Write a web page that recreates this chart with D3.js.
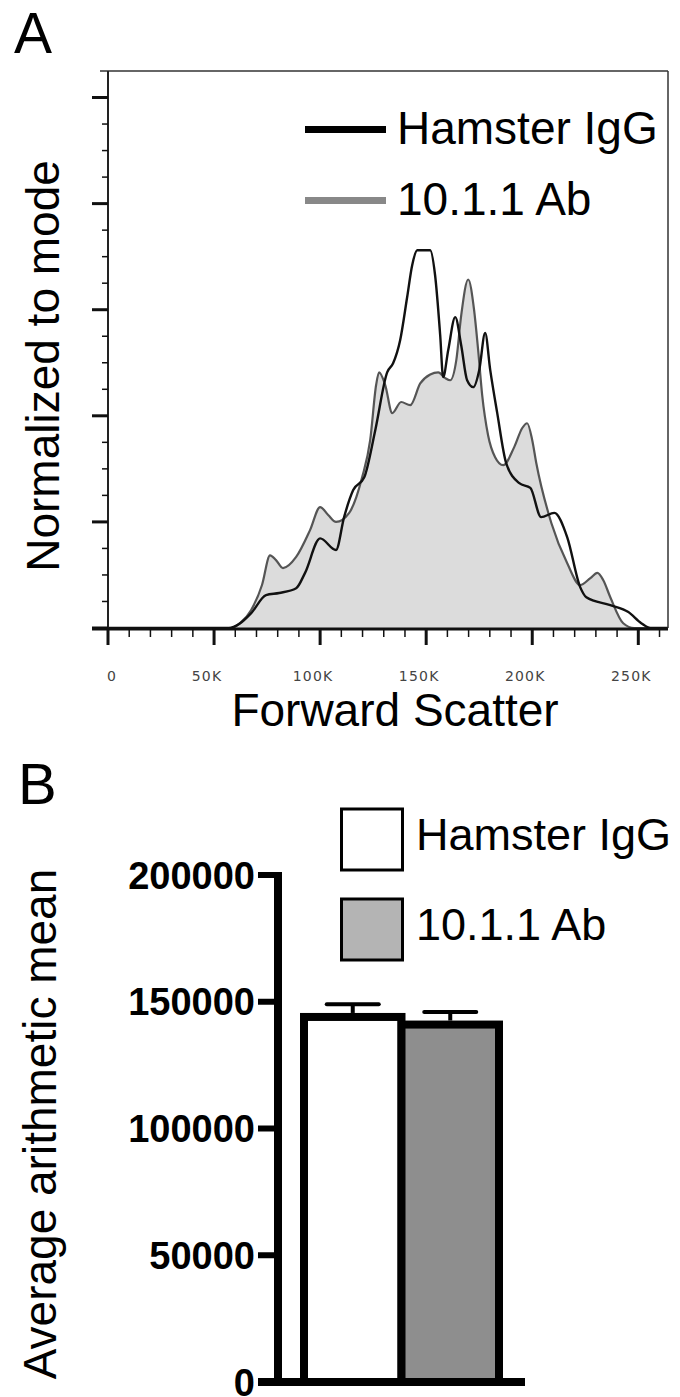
<!DOCTYPE html>
<html>
<head>
<meta charset="utf-8">
<script src="https://cdn.jsdelivr.net/npm/d3@7"></script>
<style>
  body { margin: 0; background: #fff; }
  text { font-family: "Liberation Sans", Arial, Helvetica, sans-serif; }
</style>
</head>
<body>
<script>
var width = 680;
var height = 1397;

// panel A: histogram, x in thousands (K), y in % of mode
var hamsterIgG = [[0,0],[57,0],[62,0.8],[67.5,2.8],[74.5,6.2],[80.7,6.6],[88.7,7.5],[92.9,10.4],[100,16.9],
  [107.5,14.7],[111.3,20.9],[115.6,26],[120.8,28.4],[126,37.3],[131.6,48.2],[134.4,49.9],[137.7,54.2],
  [141,62.3],[143.4,68.4],[145.8,71.2],[151.9,71.2],[154.2,66.5],[156.6,55.2],[158,47.3],[160.4,52.4],
  [163.7,58.6],[166.5,53.3],[169.3,46.7],[172.2,45.4],[175,48.6],[177.8,55.6],[180.2,48.6],[183.5,40.5],
  [187.7,31.1],[193.9,27.3],[199.1,26.4],[204.2,20.9],[210.4,21.7],[216.5,17.1],[222.6,7.7],[225.5,5.8],
  [236.8,4.3],[245.3,3.0],[251.4,0.9],[255.7,0],[264,0]];

var ab1011 = [[0,0],[58,0],[62.5,1],[67.5,3.4],[72.6,8.1],[76.4,13.7],[79.2,12.8],[82.5,11.3],[88.7,13.4],
  [95.3,18.5],[100,22.8],[103.8,21.3],[107.5,20],[113.7,21.7],[119.8,28.4],[123.6,35.4],[126.4,45.8],
  [127.8,48.2],[130.7,45.8],[134,40.5],[138.2,42.6],[142.5,42],[147.2,46.1],[151.9,47.8],[155.7,48.2],
  [159,47.1],[161.3,46.7],[164.2,50.5],[166.5,58.9],[169.8,65.7],[172.6,59.9],[174.5,52.4],[176.4,43.9],
  [179.2,36.3],[182.5,32.2],[186.3,30.7],[191.5,34.1],[195.3,37.7],[197.6,38.6],[200,35.4],[201.9,31.1],
  [209,19.8],[216.5,12.2],[222.6,8.1],[227.4,9.4],[230.7,10.4],[233.5,9.0],[236.8,5.8],[242.9,0.9],
  [248.1,0],[264,0]];

var xTicksA = [0, 50, 100, 150, 200, 250];
var xTickLabelsA = ["0", "50K", "100K", "150K", "200K", "250K"];
var seriesA = ["Hamster IgG", "10.1.1 Ab"];

// panel B: bar chart
var groupsB = ["Hamster IgG", "10.1.1 Ab"];
var meansB = [144000, 141000];
var errorsB = [5000, 5000];
var yTicksB = [0, 50000, 100000, 150000, 200000];

var svg = d3.select("body").append("svg")
  .attr("width", width)
  .attr("height", height);

// ---------- panel A ----------
var a = { left: 108, right: 668, top: 71, bottom: 628 };

var xA = d3.scaleLinear().domain([0, 264]).range([a.left, a.right]);
var yA = d3.scaleLinear().domain([0, 105]).range([a.bottom, a.top]);

svg.append("text").attr("x", 14).attr("y", 53)
  .attr("font-size", 57).text("A");

var area = d3.area()
  .x(function(d) { return xA(d[0]); })
  .y0(yA(0))
  .y1(function(d) { return yA(d[1]); })
  .curve(d3.curveMonotoneX);

var line = d3.line()
  .x(function(d) { return xA(d[0]); })
  .y(function(d) { return yA(d[1]); })
  .curve(d3.curveMonotoneX);

svg.append("path").datum(ab1011)
  .attr("d", area)
  .attr("fill", "#dcdcdc");
svg.append("path").datum(ab1011)
  .attr("d", line)
  .attr("fill", "none")
  .attr("stroke", "#555")
  .attr("stroke-width", 2.2);
svg.append("path").datum(hamsterIgG)
  .attr("d", line)
  .attr("fill", "none")
  .attr("stroke", "#111")
  .attr("stroke-width", 2.4);

// frame top and right
svg.append("line").attr("x1", a.left - 8).attr("x2", a.right)
  .attr("y1", a.top).attr("y2", a.top)
  .attr("stroke", "#333").attr("stroke-width", 1.5);
svg.append("line").attr("x1", a.right).attr("x2", a.right)
  .attr("y1", a.top).attr("y2", a.bottom)
  .attr("stroke", "#333").attr("stroke-width", 1.5);

// y axis A
var yAxisA = svg.append("g");
yAxisA.append("line").attr("x1", a.left).attr("x2", a.left)
  .attr("y1", a.top).attr("y2", a.bottom + 2)
  .attr("stroke", "#222").attr("stroke-width", 2);
yAxisA.selectAll(".ymin").data(d3.range(0, 101, 5))
  .enter().append("line")
  .attr("x1", function(d) { return d % 20 === 0 ? a.left - 16 : a.left - 6; })
  .attr("x2", a.left)
  .attr("y1", function(d) { return yA(d); })
  .attr("y2", function(d) { return yA(d); })
  .attr("stroke", "#111")
  .attr("stroke-width", function(d) { return d % 20 === 0 ? 3 : 1.5; });

// x axis A
var xAxisA = svg.append("g");
xAxisA.append("line").attr("x1", a.left - 16).attr("x2", a.right)
  .attr("y1", a.bottom + 1).attr("y2", a.bottom + 1)
  .attr("stroke", "#111").attr("stroke-width", 3);
xAxisA.selectAll(".xt").data(d3.range(0, 261, 10))
  .enter().append("line")
  .attr("x1", function(d) { return xA(d); })
  .attr("x2", function(d) { return xA(d); })
  .attr("y1", a.bottom)
  .attr("y2", function(d) { return d % 50 === 0 ? a.bottom + 17 : a.bottom + 9; })
  .attr("stroke", "#111")
  .attr("stroke-width", function(d) { return d % 50 === 0 ? 3 : 1.5; });
xAxisA.selectAll(".xl").data(xTicksA)
  .enter().append("text")
  .attr("x", function(d) { return xA(d) + (d === 0 ? 4 : -7); })
  .attr("y", 681)
  .attr("text-anchor", "middle")
  .attr("font-size", 14)
  .attr("letter-spacing", 1.2)
  .style("font-family", "'DejaVu Sans', Verdana, sans-serif")
  .attr("fill", "#444")
  .text(function(d, i) { return xTickLabelsA[i]; });

svg.append("text").attr("x", 395).attr("y", 726)
  .attr("text-anchor", "middle").attr("font-size", 46)
  .text("Forward Scatter");

svg.append("text")
  .attr("transform", "translate(59,366) rotate(-90)")
  .attr("text-anchor", "middle").attr("font-size", 46)
  .text("Normalized to mode");

// legend A
var legA = svg.append("g");
legA.selectAll("line").data(seriesA).enter().append("line")
  .attr("x1", 305).attr("x2", 386)
  .attr("y1", function(d, i) { return 129.5 + i * 71; })
  .attr("y2", function(d, i) { return 129.5 + i * 71; })
  .attr("stroke", function(d, i) { return i === 0 ? "#000" : "#888"; })
  .attr("stroke-width", 7);
legA.selectAll("text").data(seriesA).enter().append("text")
  .attr("x", 397)
  .attr("y", function(d, i) { return 144 + i * 71; })
  .attr("font-size", 46)
  .text(function(d) { return d; });

// ---------- panel B ----------
var b = { axisX: 278, top: 872, zeroY: 1382 };

svg.append("text").attr("x", 18).attr("y", 804)
  .attr("font-size", 58).text("B");

var yB = d3.scaleLinear().domain([0, 200000]).range([b.zeroY, 875]);
var xB = d3.scaleBand().domain(groupsB).range([304, 499]).padding(0);

var barFill = ["#ffffff", "#8e8e8e"];
var legendFill = ["#ffffff", "#b4b4b4"];

svg.selectAll(".bar").data(groupsB).enter().append("rect")
  .attr("x", function(d) { return xB(d); })
  .attr("y", function(d, i) { return yB(meansB[i]); })
  .attr("width", xB.bandwidth())
  .attr("height", function(d, i) { return b.zeroY - yB(meansB[i]); })
  .attr("fill", function(d, i) { return barFill[i]; })
  .attr("stroke", "#000")
  .attr("stroke-width", 8);

// error bars (upper only)
var errG = svg.append("g");
errG.selectAll(".stem").data(groupsB).enter().append("line")
  .attr("x1", function(d) { return xB(d) + xB.bandwidth() / 2; })
  .attr("x2", function(d) { return xB(d) + xB.bandwidth() / 2; })
  .attr("y1", function(d, i) { return yB(meansB[i]) - 4; })
  .attr("y2", function(d, i) { return yB(meansB[i] + errorsB[i]); })
  .attr("stroke", "#000").attr("stroke-width", 4);
errG.selectAll(".cap").data(groupsB).enter().append("line")
  .attr("x1", function(d) { return xB(d) + xB.bandwidth() / 2 - 26; })
  .attr("x2", function(d) { return xB(d) + xB.bandwidth() / 2 + 26; })
  .attr("y1", function(d, i) { return yB(meansB[i] + errorsB[i]); })
  .attr("y2", function(d, i) { return yB(meansB[i] + errorsB[i]); })
  .attr("stroke", "#000").attr("stroke-width", 4).attr("stroke-linecap", "round");

// axes B
svg.append("line").attr("x1", b.axisX).attr("x2", b.axisX)
  .attr("y1", b.top).attr("y2", b.zeroY + 4)
  .attr("stroke", "#000").attr("stroke-width", 8);
svg.append("line").attr("x1", 258).attr("x2", 525)
  .attr("y1", b.zeroY).attr("y2", b.zeroY)
  .attr("stroke", "#000").attr("stroke-width", 8);
svg.selectAll(".ytB").data(yTicksB).enter().append("line")
  .attr("x1", 258).attr("x2", b.axisX)
  .attr("y1", function(d) { return yB(d); })
  .attr("y2", function(d) { return yB(d); })
  .attr("stroke", "#000").attr("stroke-width", 6);
svg.selectAll(".ylB").data(yTicksB).enter().append("text")
  .attr("x", 255)
  .attr("y", function(d) { return yB(d) + 13.5; })
  .attr("text-anchor", "end")
  .attr("font-size", 38)
  .attr("font-weight", "bold")
  .text(function(d) { return d; });

svg.append("text")
  .attr("transform", "translate(56,1124) rotate(-90)")
  .attr("text-anchor", "middle").attr("font-size", 46)
  .text("Average arithmetic mean");

// legend B
var legB = svg.append("g");
legB.selectAll("rect").data(groupsB).enter().append("rect")
  .attr("x", 341.5)
  .attr("y", function(d, i) { return 809 + i * 90; })
  .attr("width", 61).attr("height", 61)
  .attr("fill", function(d, i) { return legendFill[i]; })
  .attr("stroke", "#000").attr("stroke-width", 3);
legB.selectAll("text").data(groupsB).enter().append("text")
  .attr("x", 416)
  .attr("y", function(d, i) { return 850 + i * 90; })
  .attr("font-size", 45)
  .text(function(d) { return d; });
</script>
</body>
</html>
